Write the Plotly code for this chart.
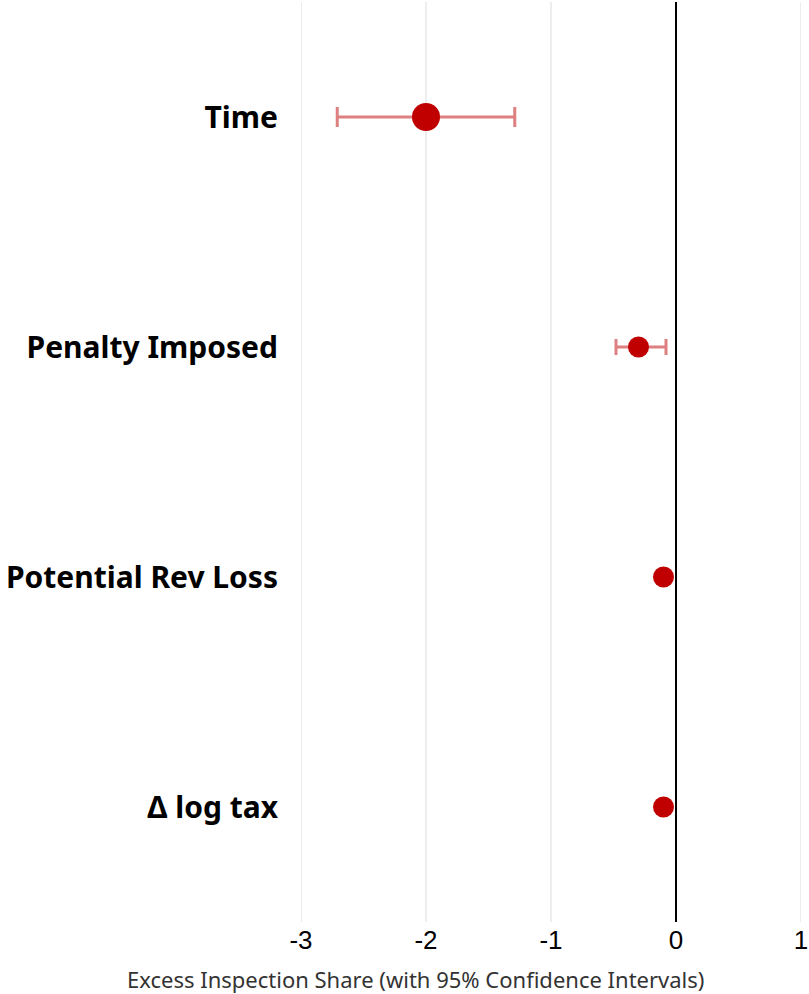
import plotly.graph_objects as go

# Estimates with asymmetric 95% confidence intervals
labels = ["Time", "Penalty Imposed", "Potential Rev Loss", "Δ log tax"]
estimates = [-2.00, -0.30, -0.10, -0.10]
ci_low = [-2.71, -0.48, -0.13, -0.14]
ci_high = [-1.29, -0.08, -0.07, -0.06]
marker_sizes = [28, 21, 21, 21]
cap_widths = [10, 8, 6, 6]

x_ticks = [-3, -2, -1, 0, 1]
x_title = "Excess Inspection Share (with 95% Confidence Intervals)"

y_pos = list(range(len(labels) - 1, -1, -1))

fig = go.Figure()
for i, lab in enumerate(labels):
    fig.add_trace(go.Scatter(
        x=[estimates[i]], y=[y_pos[i]], mode="markers",
        marker=dict(size=marker_sizes[i], color="#c00000"),
        error_x=dict(type="data", symmetric=False,
                     array=[ci_high[i] - estimates[i]],
                     arrayminus=[estimates[i] - ci_low[i]],
                     color="rgba(204,60,60,0.65)", thickness=3,
                     width=cap_widths[i]),
        showlegend=False, name=lab,
    ))

# vertical gridlines (drawn as shapes so the edge lines show too)
for t in x_ticks:
    if t != 0:
        fig.add_shape(type="line", xref="x", yref="paper", x0=t, x1=t, y0=0, y1=1,
                      line=dict(color="#ededed", width=2), layer="below")

fig.add_shape(type="line", xref="x", yref="paper", x0=0, x1=0, y0=0, y1=1,
              line=dict(color="black", width=2), layer="above")

fig.add_annotation(text=x_title, xref="paper", yref="paper",
                   x=0.228, y=-57 / 920, xanchor="center", yanchor="middle",
                   showarrow=False, borderpad=0,
                   font=dict(size=22, color="#333"))

fig.update_layout(
    width=809, height=994,
    margin=dict(l=301, r=8, t=2, b=72),
    plot_bgcolor="white", paper_bgcolor="white",
    font=dict(family="Noto Sans, Liberation Sans, Arial", color="black"),
    xaxis=dict(range=[-3, 1], tickvals=x_ticks, ticktext=[str(t) for t in x_ticks],
               showgrid=False, zeroline=False, showline=False, ticks="",
               tickfont=dict(size=26, family="Liberation Sans, Arial", color="black")),
    yaxis=dict(range=[-0.5, 3.5], tickvals=y_pos, ticktext=labels,
               showgrid=False, zeroline=False, showline=False, ticks="",
               tickfont=dict(size=30, weight="bold", color="black"),
               ticklabelstandoff=22),
)

fig.write_html("out.html")
